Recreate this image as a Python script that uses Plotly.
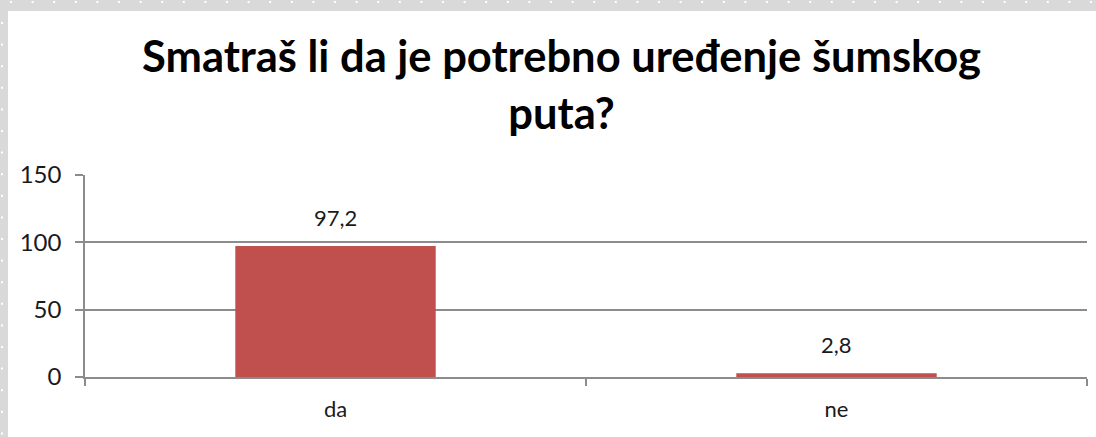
import plotly.graph_objects as go

categories = ["da", "ne"]
values = [97.2, 2.8]
value_labels = ["97,2", "2,8"]
y_ticks = [0, 50, 100, 150]
title_text = "Smatraš li da je potrebno uređenje šumskog<br>puta?"

W, H = 1096, 437
L, R, T, B = 85, 9, 175, 60
pw = W - L - R
ph = H - T - B

def px_x(x):
    return (x - L) / pw

def px_y(y):
    return (H - B - y) / ph

fig = go.Figure()
fig.add_trace(go.Bar(
    x=categories, y=values,
    marker=dict(color="#C0504D", line=dict(width=0)),
    width=0.4,
    hoverinfo="skip",
))

for c, v, t in zip(categories, values, value_labels):
    fig.add_annotation(x=c, y=v, text=t, showarrow=False, yanchor="bottom",
                       yshift=13, font=dict(family="Lato", size=22, color="#1a1a1a"))

fig.add_annotation(x=px_x(561.5), y=px_y(27), xref="paper", yref="paper",
                   text=title_text, showarrow=False, xanchor="center", yanchor="top",
                   align="center",
                   font=dict(family="Lato", size=43.5, color="black", weight="bold"))

shapes = [
    dict(type="rect", xref="paper", yref="paper", x0=px_x(8), x1=px_x(W + 5),
         y0=px_y(H + 5), y1=px_y(11), fillcolor="white", line=dict(width=0), layer="below"),
    dict(type="line", xref="paper", yref="paper", x0=px_x(10), x1=px_x(W),
         y0=px_y(2), y1=px_y(2), line=dict(color="white", width=2, dash="2px,19.6px"), layer="below"),
    dict(type="line", xref="paper", yref="paper", x0=px_x(2), x1=px_x(2),
         y0=px_y(22), y1=px_y(H), line=dict(color="white", width=2, dash="2px,19.6px"), layer="below"),
]

fig.update_layout(
    width=W, height=H,
    margin=dict(l=L, r=R, t=T, b=B, pad=0, autoexpand=False),
    paper_bgcolor="#d9d9d9",
    plot_bgcolor="white",
    showlegend=False,
    shapes=shapes,
    bargap=0.6,
)

fig.update_xaxes(
    range=[-0.5, 1.5],
    automargin=False,
    showgrid=False,
    showline=True, linecolor="#8c8c8c", linewidth=1.5,
    ticks="outside", tickson="boundaries", ticklen=7, tickcolor="#8c8c8c", tickwidth=1.5,
    tickfont=dict(family="Lato", size=22, color="#1a1a1a"),
    ticklabelstandoff=12,
    fixedrange=True,
)
fig.update_yaxes(
    range=[0, 150],
    automargin=False,
    tickvals=y_ticks,
    showgrid=True, gridcolor="#8c8c8c", gridwidth=1.5,
    showline=True, linecolor="#8c8c8c", linewidth=1.5,
    ticks="outside", ticklen=8, tickcolor="#8c8c8c", tickwidth=1.5,
    tickfont=dict(family="Lato", size=24, color="#1a1a1a"),
    ticklabelstandoff=9,
    zeroline=False,
    fixedrange=True,
)

fig.write_html("out.html", config={"displayModeBar": False},
               post_script="document.body.style.margin='0';document.body.style.overflow='hidden';")
